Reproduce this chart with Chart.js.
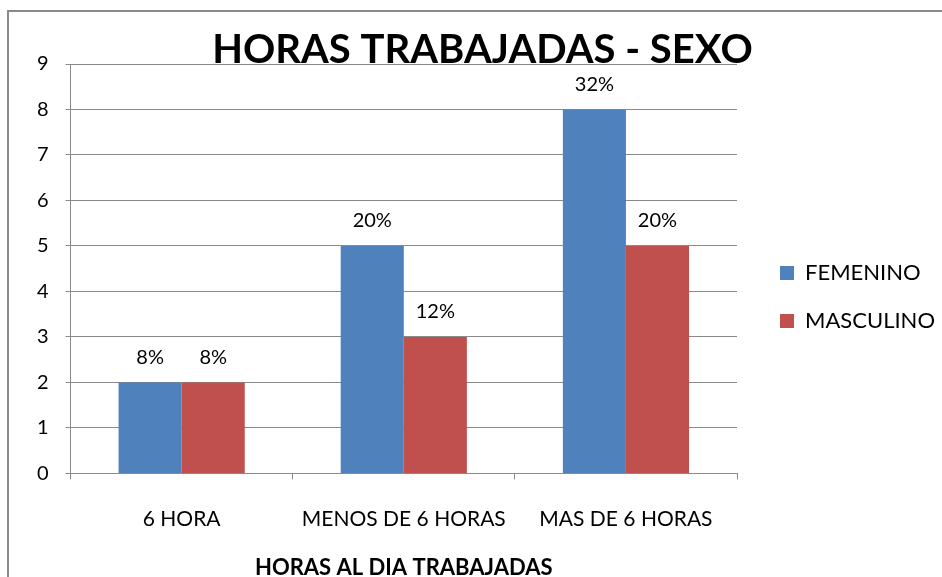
<!DOCTYPE html>
<html>
<head>
<meta charset="utf-8">
<script src="https://cdn.jsdelivr.net/npm/chart.js@4.4.1/dist/chart.umd.min.js"></script>
<style>
  html, body { margin: 0; padding: 0; background: #fff; overflow: hidden; }
  #wrap { position: relative; width: 942px; height: 577px; }
  #frame { position: absolute; left: 7px; top: 10px; width: 960px; height: 600px;
           border-left: 2px solid #8a8a8a; border-top: 2px solid #8a8a8a; }
  canvas { position: absolute; left: 0; top: 0; }
</style>
</head>
<body>
<div id="wrap">
  <div id="frame"></div>
  <canvas id="c" width="942" height="577"></canvas>
</div>
<script>
const categories = ["6 HORA", "MENOS DE 6 HORAS", "MAS DE 6 HORAS"];
const femenino = [2, 5, 8];
const masculino = [2, 3, 5];
const femeninoLabels = ["8%", "20%", "32%"];
const masculinoLabels = ["8%", "12%", "20%"];
const yTicks = [0, 1, 2, 3, 4, 5, 6, 7, 8, 9];

const FONT = "Lato, 'Open Sans', sans-serif";

const barLabels = {
  id: 'barLabels',
  afterDatasetsDraw(chart) {
    const ctx = chart.ctx;
    ctx.save();
    ctx.font = "20px " + FONT;
    ctx.fillStyle = "#000";
    ctx.textAlign = "center";
    ctx.textBaseline = "middle";
    chart.data.datasets.forEach((ds, i) => {
      const meta = chart.getDatasetMeta(i);
      meta.data.forEach((bar, j) => {
        ctx.fillText(ds.pctLabels[j], bar.x, bar.y - 25);
      });
    });
    ctx.restore();
  }
};

new Chart(document.getElementById('c'), {
  type: 'bar',
  data: {
    labels: categories,
    datasets: [
      { label: "FEMENINO", data: femenino, pctLabels: femeninoLabels,
        backgroundColor: "#4F81BD", categoryPercentage: 0.568, barPercentage: 1.0 },
      { label: "MASCULINO", data: masculino, pctLabels: masculinoLabels,
        backgroundColor: "#C0504D", categoryPercentage: 0.568, barPercentage: 1.0 }
    ]
  },
  options: {
    responsive: false,
    animation: false,
    layout: { padding: { left: 20, right: -3, top: 0, bottom: -4 } },
    plugins: {
      title: {
        display: true,
        text: "HORAS TRABAJADAS - SEXO",
        color: "#000",
        font: { family: FONT, size: 40, weight: "bold", lineHeight: 1.0 },
        padding: { top: 30, bottom: -6 }
      },
      legend: {
        position: 'right',
        title: { display: true, text: " ", font: { size: 10 }, padding: { top: -16, bottom: 0 } },
        labels: {
          color: "#000",
          font: { family: FONT, size: 22, lineHeight: 0.227 },
          boxWidth: 14, boxHeight: 14,
          padding: 43,
          generateLabels(chart) {
            return Chart.defaults.plugins.legend.labels.generateLabels(chart)
              .map(item => Object.assign(item, { text: [item.text] }));
          }
        }
      },
      tooltip: { enabled: false }
    },
    scales: {
      x: {
        grid: { display: true, drawOnChartArea: false, drawTicks: true, tickLength: 6, color: "#8a8a8a", offset: true },
        border: { display: true, color: "#8a8a8a" },
        ticks: { color: "#000", font: { family: FONT, size: 21 }, padding: 27 },
        title: { display: true, text: "HORAS AL DIA TRABAJADAS", color: "#000",
                 font: { family: FONT, size: 22, weight: "bold" }, padding: { top: -4, bottom: 0 } }
      },
      y: {
        min: 0, max: 9,
        afterBuildTicks(axis) { axis.ticks = yTicks.map(v => ({ value: v })); },
        grid: { color: "#8a8a8a", tickLength: 5 },
        border: { display: true, color: "#8a8a8a" },
        ticks: { color: "#000", font: { family: FONT, size: 20 }, padding: 17 }
      }
    }
  },
  plugins: [barLabels]
});
</script>
</body>
</html>
